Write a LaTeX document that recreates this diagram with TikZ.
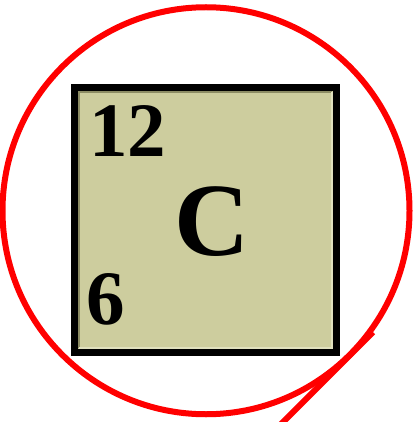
\documentclass[tikz,border=0pt]{standalone}
\usepackage{fontspec}
\setmainfont{Liberation Serif}
\definecolor{tilefill}{RGB}{205,205,158}
\definecolor{tiledark}{RGB}{140,140,100}
\definecolor{tilelight}{RGB}{224,224,190}
\tikzset{
  tile/.style={draw=black,line width=3.5pt,fill=tilefill,minimum width=131pt,minimum height=132.5pt,inner sep=0pt},
  lens/.style={draw=red,line width=3pt,circle,minimum size=203.5pt,inner sep=0pt},
  digits/.style={anchor=base west,inner sep=0pt,font=\bfseries\fontsize{38.5}{40}\selectfont},
  symbol/.style={anchor=base west,inner sep=0pt,font=\bfseries\fontsize{52}{54}\selectfont}
}

\begin{document}
\begin{tikzpicture}[x=0.5pt,y=-0.5pt]
\useasboundingbox (0,0) rectangle (415,422);

% element tile
\node[tile] (cell) at (205.5,220) {};
\draw[tiledark,line width=1pt] (79,348) -- (79,92) -- (332,92);
\draw[tilelight,line width=1pt] (79,348) -- (332,348) -- (332,92);

% texts of the tile
\node[digits] (mass) at (89,157) {12};
\node[symbol] (elem) at (174,255) {C};
\node[digits] (atomic) at (86,324) {6};

% magnifier circle and its handle
\node[lens] (zoom) at (206,210.75) {};
\coordinate (handle) at (279,426);
\draw[red,line width=3pt] (zoom.-36) -- (handle);

\end{tikzpicture}
\end{document}
